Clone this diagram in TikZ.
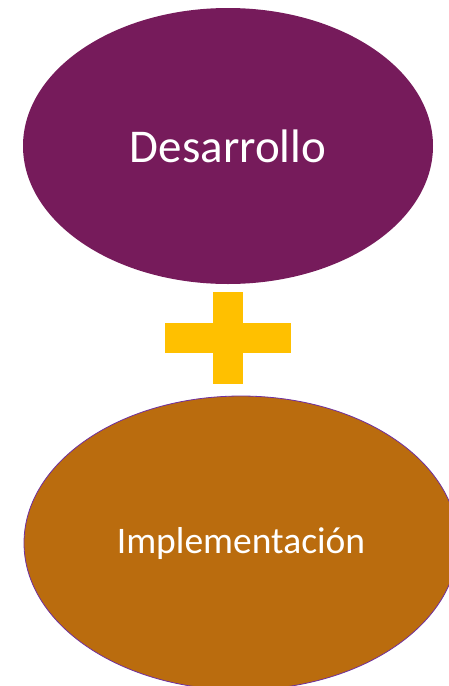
\documentclass[tikz,border=0pt]{standalone}
\usepackage{fontspec}
\setmainfont{Carlito}
\usetikzlibrary{shapes.geometric,positioning}
\definecolor{morado}{RGB}{118,27,91}
\definecolor{ocre}{RGB}{186,108,14}
\definecolor{borde}{RGB}{112,48,160}
\definecolor{amarillo}{RGB}{255,192,0}

\begin{document}
\begin{tikzpicture}[x=1pt,y=-1pt,inner sep=0pt,outer sep=0pt]
  \tikzstyle{fase}=[ellipse,text=white,align=center]

  \useasboundingbox (0,0) rectangle (449,686);
  \clip (0,0) rectangle (449,686);

  \node[fase,fill=morado,minimum width=410pt,minimum height=276pt,
        font=\fontsize{47}{50}\selectfont] (desarrollo) at (228,146) {Desarrollo};
  \node[fase,fill=ocre,draw=borde,line width=0.8pt,minimum width=434pt,
        minimum height=294pt,font=\fontsize{37.5}{40}\selectfont]
        (implementacion) at (241,543) {Implementación};

  % signo mas
  \fill[amarillo] (165,323) rectangle (291,353);
  \fill[amarillo] (213,292) rectangle (243,384);
\end{tikzpicture}
\end{document}
